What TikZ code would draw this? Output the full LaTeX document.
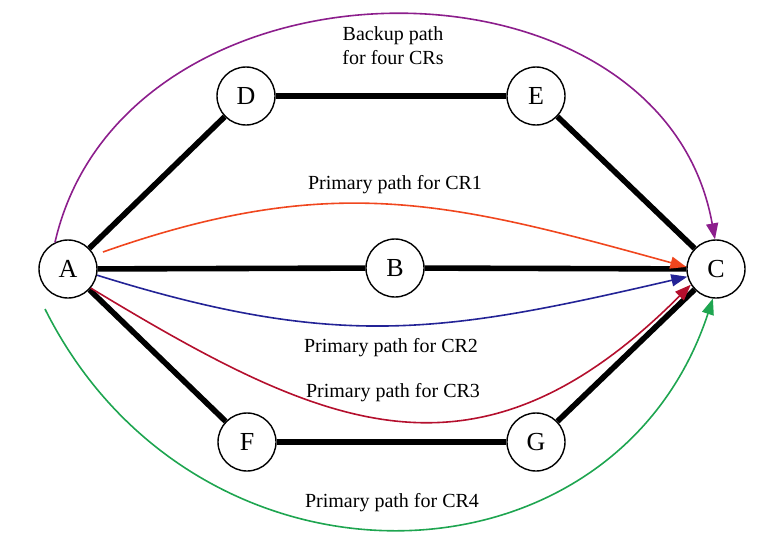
\documentclass[tikz,border=0pt]{standalone}
\usepackage{fontspec}
\setmainfont{Liberation Serif}
\usetikzlibrary{arrows.meta}
\definecolor{cpurple}{RGB}{140,30,140}
\definecolor{corange}{RGB}{240,70,30}
\definecolor{cblue}{RGB}{35,35,150}
\definecolor{cdred}{RGB}{180,15,45}
\definecolor{cgreen}{RGB}{30,165,80}
\begin{document}
\begin{tikzpicture}[x=0.5pt,y=-0.5pt,
  vertex/.style={circle,draw,line width=0.7pt,minimum size=29pt,inner sep=0pt,font=\fontsize{13}{13}\selectfont},
  link/.style={line width=2.8pt},
  pathlbl/.style={font=\fontsize{10}{12}\selectfont,align=center,inner sep=0pt},
  flow/.style={line width=0.8pt,-{Triangle[length=8pt,width=6pt]}},
]
\useasboundingbox (0,0) rectangle (771,546);
% nodes
\node[vertex] (A) at (68,269) {A};
\node[vertex] (D) at (246,96) {D};
\node[vertex] (E) at (536,96) {E};
\node[vertex] (B) at (395,268) {B};
\node[vertex] (C) at (716,269) {C};
\node[vertex] (F) at (247,442) {F};
\node[vertex] (G) at (536,442) {G};
% links
\draw[link] (A) -- (D);
\draw[link] (D) -- (E);
\draw[link] (E) -- (C);
\draw[link] (A) -- (B);
\draw[link] (B) -- (C);
\draw[link] (A) -- (F);
\draw[link] (F) -- (G);
\draw[link] (G) -- (C);
% free ends
\coordinate (r0) at (103,252);
\coordinate (g0) at (45,309);
% flows
\draw[flow,cpurple] (A.116) .. controls (124,-58) and (661,-62) .. (C.92);
\draw[flow,corange] (r0) .. controls (333,171) and (451,202) .. (C.176);
\draw[flow,cblue] (A.-12) .. controls (340,351) and (444,333) .. (C.195);
\draw[flow,cdred] (A.-40) .. controls (321,427) and (475,501) .. (C.212);
\draw[flow,cgreen] (g0) .. controls (195,609) and (614,599) .. (C.264);
% labels
\node[pathlbl] (lb) at (393,46) {Backup path\\for four CRs};
\node[pathlbl] (l1) at (395,185) {Primary path for CR1};
\node[pathlbl] (l2) at (391,348) {Primary path for CR2};
\node[pathlbl] (l3) at (393,393) {Primary path for CR3};
\node[pathlbl] (l4) at (392,503) {Primary path for CR4};
\end{tikzpicture}
\end{document}
